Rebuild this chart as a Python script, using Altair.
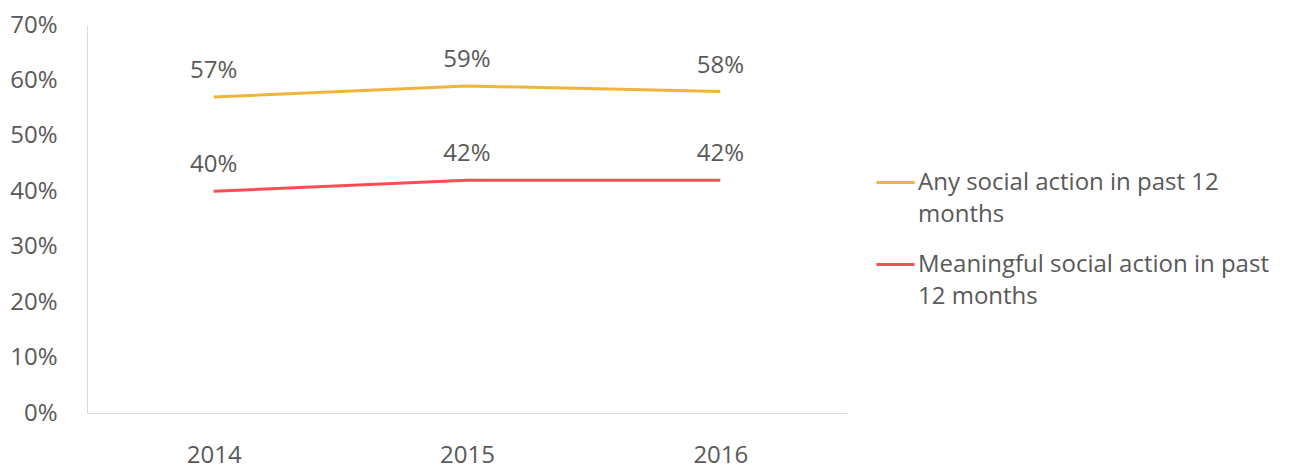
import altair as alt
import pandas as pd

years = ["2014", "2015", "2016"]
series_names = ["Any social action in past 12 months", "Meaningful social action in past 12 months"]
any_action = [57, 59, 58]
meaningful_action = [40, 42, 42]
colors = ["#F0B43C", "#FF4B55"]

rows = []
for y, v in zip(years, any_action):
    rows.append({"year": y, "series": series_names[0], "value": v / 100})
for y, v in zip(years, meaningful_action):
    rows.append({"year": y, "series": series_names[1], "value": v / 100})
df = pd.DataFrame(rows)

FONT = "Open Sans"
TXT = "#595959"
FS = 24

x = alt.X("year:N", title=None,
          scale=alt.Scale(type="point", padding=0.5),
          axis=alt.Axis(labelAngle=0, labelFontSize=FS, labelColor=TXT, labelFont=FONT,
                        labelLineHeight=FS, ticks=False, domainColor="#D9D9D9", labelPadding=30))
y = alt.Y("value:Q", title=None,
          scale=alt.Scale(domain=[0, 0.7], nice=False),
          axis=alt.Axis(format=".0%", values=[0, 0.1, 0.2, 0.3, 0.4, 0.5, 0.6, 0.7],
                        labelFontSize=FS, labelColor=TXT, labelFont=FONT, ticks=False,
                        grid=False, domainColor="#D9D9D9", labelPadding=30))

color = alt.Color("series:N", title=None,
                  scale=alt.Scale(domain=series_names, range=colors),
                  legend=alt.Legend(
                      orient="none", legendX=788, legendY=137,
                      symbolType="stroke", symbolSize=1444, symbolStrokeWidth=3,
                      labelFontSize=FS, labelColor=TXT, labelFont=FONT,
                      labelLimit=500, labelOffset=2, rowPadding=17,
                      labelExpr="datum.label == 'Any social action in past 12 months' ? ['Any social action in past 12', 'months'] : ['Meaningful social action in past', '12 months']"))

lines = alt.Chart(df).mark_line(strokeWidth=3).encode(x=x, y=y, color=color)
labels = alt.Chart(df).mark_text(fontSize=FS, font=FONT, color=TXT, dy=-26).encode(
    x=x, y=y, text=alt.Text("value:Q", format=".0%"))

chart = (lines + labels).properties(
    width=760, height=388,
    autosize=alt.AutoSizeParams(type="none"),
    padding={"left": 79, "top": 17, "right": 443, "bottom": 62},
).configure(font=FONT, style={"guide-label": {"lineHeight": 32}}).configure_view(stroke=None)

chart.save("out.html", embed_options={"renderer": "svg", "actions": False})
